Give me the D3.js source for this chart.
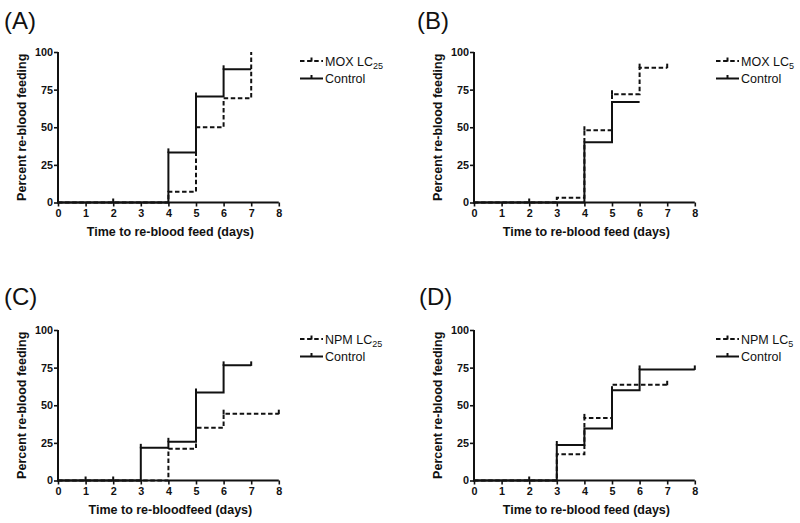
<!DOCTYPE html>
<html><head><meta charset="utf-8">
<script src="https://cdn.jsdelivr.net/npm/d3@7"></script>
<style>body{margin:0;background:#fff}svg{display:block}</style>
</head><body>
<svg id="c" width="800" height="523"></svg>
<script>
// ---- data ----
const panelIds = ["(A)", "(B)", "(C)", "(D)"];
const dayTicks = [0, 1, 2, 3, 4, 5, 6, 7, 8];
const pctTicks = [0, 25, 50, 75, 100];
const yTitle = "Percent re-blood feeding";
const xTitles = ["Time to re-blood feed (days)", "Time to re-blood feed (days)", "Time to re-bloodfeed (days)", "Time to re-blood feed (days)"];
const treatNames = ["MOX LC", "MOX LC", "NPM LC", "NPM LC"];
const treatSubs = ["25", "5", "25", "5"];
const controlName = "Control";

// Panel A
const treatTimesA = [0, 4, 5, 6, 7];
const treatPctA = [0, 7.2, 50, 69.2, 100];
const treatEndA = 7;
const treatCensorA = [];
const ctrlTimesA = [0, 4, 5, 6];
const ctrlPctA = [0, 33.3, 70.4, 88.5];
const ctrlEndA = 7;
const ctrlCensorA = [2, 4, 5, 6];

// Panel B
const treatTimesB = [0, 3, 4, 5, 6];
const treatPctB = [0, 3.1, 48, 72, 89.6];
const treatEndB = 7;
const treatCensorB = [4, 5, 6, 7];
const ctrlTimesB = [0, 4, 5];
const ctrlPctB = [0, 40, 66.7];
const ctrlEndB = 6;
const ctrlCensorB = [2];

// Panel C
const treatTimesC = [0, 4, 5, 6];
const treatPctC = [0, 21.1, 35, 44.4];
const treatEndC = 8;
const treatCensorC = [6, 8];
const ctrlTimesC = [0, 3, 4, 5, 6];
const ctrlPctC = [0, 21.7, 25.7, 58.4, 76.5];
const ctrlEndC = 7;
const ctrlCensorC = [1, 2, 3, 4, 5, 6, 7];

// Panel D
const treatTimesD = [0, 3, 4, 5];
const treatPctD = [0, 17.4, 41.6, 63.6];
const treatEndD = 7;
const treatCensorD = [4, 7];
const ctrlTimesD = [0, 3, 4, 5, 6];
const ctrlPctD = [0, 23.6, 34.6, 59.9, 73.8];
const ctrlEndD = 8;
const ctrlCensorD = [2, 3, 5, 6, 8];

// ---- assemble ----
const treatTimes = [treatTimesA, treatTimesB, treatTimesC, treatTimesD];
const treatPct = [treatPctA, treatPctB, treatPctC, treatPctD];
const treatEnd = [treatEndA, treatEndB, treatEndC, treatEndD];
const treatCensor = [treatCensorA, treatCensorB, treatCensorC, treatCensorD];
const ctrlTimes = [ctrlTimesA, ctrlTimesB, ctrlTimesC, ctrlTimesD];
const ctrlPct = [ctrlPctA, ctrlPctB, ctrlPctC, ctrlPctD];
const ctrlEnd = [ctrlEndA, ctrlEndB, ctrlEndC, ctrlEndD];
const ctrlCensor = [ctrlCensorA, ctrlCensorB, ctrlCensorC, ctrlCensorD];

const svg = d3.select("#c");
const FONT = "'Liberation Sans', Arial, sans-serif";
const INK = "#111";
const origins = [[58, 202.5], [474, 202.5], [58, 480.5], [474, 480.5]];
const labelPos = [[4, 29], [417, 29], [4, 305], [419, 305]];
const PW = 220.8, PH = 150.5;
const DASH = "4.5,2.6";

function levelAt(times, pct, t) {
  let v = pct[0];
  for (let i = 0; i < times.length; i++) if (times[i] <= t) v = pct[i];
  return v;
}

panelIds.forEach((id, k) => {
  const [ox, oy] = origins[k];
  svg.append("text").attr("x", labelPos[k][0]).attr("y", labelPos[k][1])
    .attr("font-family", FONT).attr("font-size", 24).attr("fill", INK).text(id);

  const g = svg.append("g").attr("transform", `translate(${ox},${oy - PH})`);
  const x = d3.scaleLinear().domain([0, 8]).range([0, PW]);
  const y = d3.scaleLinear().domain([0, 100]).range([PH, 0]);

  const xAxis = g.append("g").attr("transform", `translate(0,${PH})`)
    .call(d3.axisBottom(x).tickValues(dayTicks).tickSize(4).tickPadding(3).tickSizeOuter(0));
  const yAxis = g.append("g")
    .call(d3.axisLeft(y).tickValues(pctTicks).tickSize(4).tickPadding(1).tickSizeOuter(0));
  [xAxis, yAxis].forEach(a => {
    a.select(".domain").attr("stroke", INK).attr("stroke-width", 2);
    a.selectAll(".tick line").attr("stroke", INK).attr("stroke-width", 1.6);
    a.selectAll(".tick text").attr("font-family", FONT).attr("font-size", 10.8)
      .attr("font-weight", "bold").attr("fill", INK);
  });
  yAxis.select(".domain").attr("d", `M0,${PH + 1}V0`);
  xAxis.select(".domain").attr("d", `M-1,0H${PW}`);

  g.append("text").attr("x", PW / 2 + 2).attr("y", PH + 33)
    .attr("text-anchor", "middle").attr("font-family", FONT).attr("font-size", 12.5)
    .attr("font-weight", "bold").attr("fill", INK).text(xTitles[k]);
  g.append("text").attr("transform", `translate(-32,${PH / 2}) rotate(-90)`)
    .attr("text-anchor", "middle").attr("font-family", FONT).attr("font-size", 12.5)
    .attr("font-weight", "bold").attr("fill", INK).text(yTitle);

  const line = d3.line().x(d => x(d[0])).y(d => y(d[1])).curve(d3.curveStepAfter);
  const series = [
    { times: treatTimes[k], pct: treatPct[k], end: treatEnd[k], censor: treatCensor[k], dash: DASH },
    { times: ctrlTimes[k], pct: ctrlPct[k], end: ctrlEnd[k], censor: ctrlCensor[k], dash: null }
  ];
  series.forEach(s => {
    const pts = s.times.map((t, i) => [t, s.pct[i]]);
    pts.push([s.end, s.pct[s.pct.length - 1]]);
    g.append("path").attr("d", line(pts)).attr("fill", "none").attr("stroke", INK)
      .attr("stroke-width", 2).attr("stroke-dasharray", s.dash);
    s.censor.forEach(t => {
      const v = levelAt(s.times, s.pct, t);
      g.append("line").attr("x1", x(t)).attr("x2", x(t))
        .attr("y1", y(v) - 4).attr("y2", y(v) + 0.5)
        .attr("stroke", INK).attr("stroke-width", 2);
    });
  });

  // legend
  const lx = ox + 242, ly = oy - PH + 9;
  const names = [[treatNames[k], treatSubs[k], DASH], [controlName, null, null]];
  names.forEach((n, i) => {
    const yy = ly + i * 17.5;
    svg.append("line").attr("x1", lx).attr("x2", lx + 23).attr("y1", yy).attr("y2", yy)
      .attr("stroke", INK).attr("stroke-width", 2).attr("stroke-dasharray", n[2]);
    svg.append("line").attr("x1", lx + 11.5).attr("x2", lx + 11.5).attr("y1", yy - 3.5).attr("y2", yy + 0.5)
      .attr("stroke", INK).attr("stroke-width", 2);
    const t = svg.append("text").attr("x", lx + 25).attr("y", yy + 4.5)
      .attr("font-family", FONT).attr("font-size", 12.5).attr("fill", INK).text(n[0]);
    if (n[1]) t.append("tspan").attr("dy", 3).attr("font-size", 9).text(n[1]);
  });
});
</script>
</body></html>
